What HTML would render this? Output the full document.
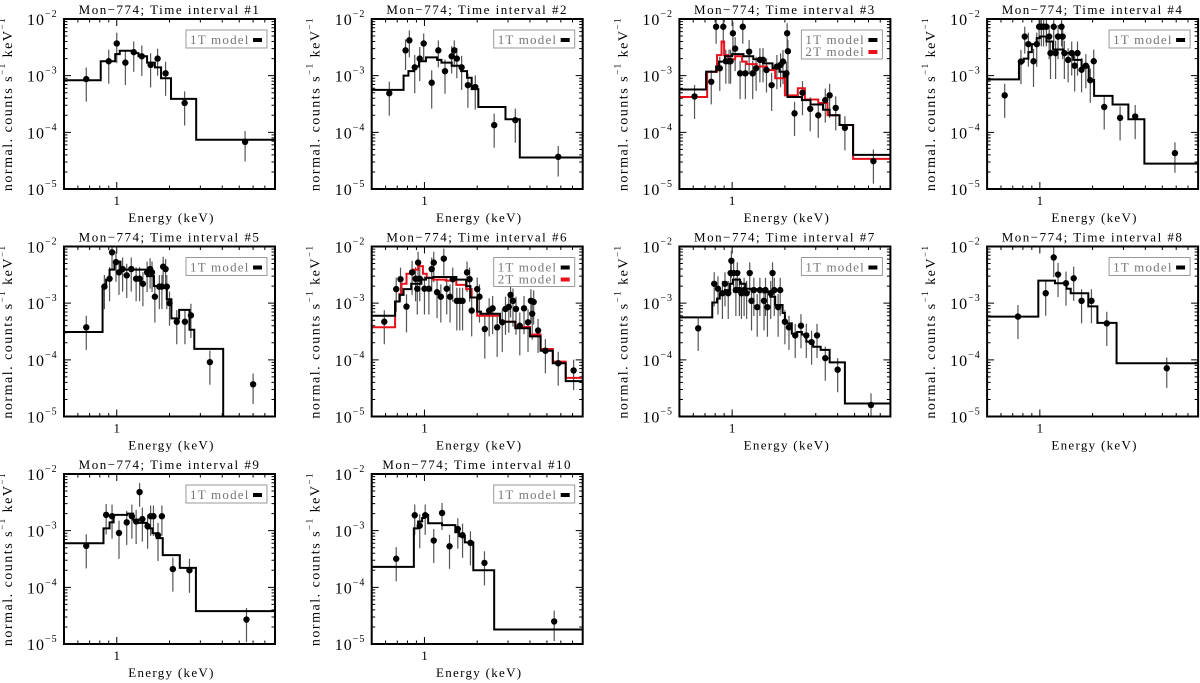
<!DOCTYPE html>
<html><head><meta charset="utf-8">
<style>
html,body{margin:0;padding:0;background:#fff;}
svg{display:block;font-family:"Liberation Serif","DejaVu Serif",serif;}
</style></head>
<body>
<svg id="chart" width="1200" height="683" viewBox="0 0 1200 683" xmlns="http://www.w3.org/2000/svg"></svg>
<script>
// ---- data (energy keV, normalized counts s^-1 keV^-1) ----
const p1E=[0.67,0.90,1.0,1.12,1.25,1.39,1.56,1.71,1.90,2.44,5.4];
const p1Y=[8.7e-4,1.8e-3,3.7e-3,1.7e-3,2.6e-3,2.2e-3,1.55e-3,2.0e-3,1.1e-3,3.3e-4,6.8e-5];
const p1F=[0.6,0.6,0.55,0.6,0.55,0.55,0.6,0.5,0.6,0.6,0.55];
const p1Edges=[0.5,0.81,0.98,1.04,1.24,1.33,1.49,1.65,1.79,2.04,2.84,8];
const p1M=[8.3e-4,1.8e-3,2.4e-3,2.75e-3,2.5e-3,2.2e-3,1.7e-3,1.4e-3,9e-4,3.9e-4,7.4e-5];

const p2E=[0.63,0.78,0.82,0.88,0.94,0.99,1.10,1.20,1.31,1.43,1.48,1.53,1.63,1.77,1.95,2.5,3.3,5.8];
const p2Y=[4.9e-4,2.8e-3,4.2e-3,1.4e-3,2.0e-3,3.7e-3,7.5e-4,2.8e-3,1.2e-3,2.2e-3,2.8e-3,2.0e-3,1.4e-3,6.8e-4,6.3e-4,1.34e-4,1.64e-4,3.7e-5];
const p2F=[0.6,0.55,0.5,0.65,0.6,0.5,0.65,0.5,0.6,0.5,0.5,0.55,0.6,0.6,0.6,0.6,0.6,0.55];
const p2Edges=[0.5,0.76,0.81,0.87,0.93,1.02,1.18,1.25,1.43,1.62,1.75,1.86,2.03,2.9,3.5,8];
const p2M=[5.6e-4,1.0e-3,1.2e-3,1.45e-3,1.8e-3,2.1e-3,1.9e-3,1.7e-3,1.5e-3,1.2e-3,9.2e-4,5.8e-4,2.8e-4,1.7e-4,3.6e-5];

const p3E=[0.61,0.76,0.81,0.85,0.89,0.92,0.96,0.98,1.01,1.04,1.11,1.15,1.19,1.25,1.31,1.37,1.44,1.50,1.57,1.68,1.80,1.89,1.95,2.04,2.06,2.08,2.27,2.52,2.79,3.1,3.4,3.6,3.9,4.4,6.4];
const p3Y=[4.3e-4,7.8e-4,7.3e-3,1.35e-3,7.3e-3,1.8e-3,1.8e-3,1.8e-3,5.6e-3,3.0e-3,1.1e-3,7.3e-3,1.1e-3,2.65e-3,1.1e-3,1.35e-3,1.9e-3,1.9e-3,1.26e-3,6.8e-4,1.45e-3,1.55e-3,1.77e-3,1.1e-3,5.6e-3,2.7e-3,2.16e-4,5.0e-4,2.6e-4,2.0e-4,3.7e-4,4.5e-4,2.7e-4,1.2e-4,3.1e-5];
const p3F=[0.6,0.6,0.5,0.6,0.5,0.6,0.6,0.6,0.6,0.6,0.65,0.5,0.65,0.6,0.65,0.6,0.6,0.6,0.6,0.65,0.6,0.6,0.6,0.6,0.5,0.6,0.6,0.6,0.6,0.6,0.6,0.6,0.6,0.6,0.6];
const p3Edges=[0.5,0.71,0.81,0.84,0.91,1.0,1.16,1.32,1.50,1.70,1.86,1.97,2.07,2.5,2.8,3.3,3.6,4.1,4.9,8];
const p3M=[5.7e-4,1.17e-3,1.45e-3,1.77e-3,2.2e-3,2.4e-3,2.2e-3,1.95e-3,1.65e-3,1.35e-3,1.17e-3,9.6e-4,4.2e-4,3.7e-4,3.1e-4,2.5e-4,2.0e-4,1.35e-4,4e-5];
const p3REdges=[0.5,0.72,0.82,0.87,0.90,0.95,1.04,1.14,1.21,1.38,1.58,1.76,2.0,2.37,2.6,3.1,3.5,4.1,4.9,8];
const p3R=[4.2e-4,1.17e-3,2.3e-3,4.0e-3,2.3e-3,1.95e-3,2.2e-3,1.77e-3,1.6e-3,1.45e-3,1.25e-3,9e-4,4.5e-4,6e-4,3.8e-4,3.3e-4,2.0e-4,1.35e-4,3.4e-5];

const p4E=[0.63,0.78,0.82,0.86,0.92,0.96,0.99,1.02,1.05,1.09,1.13,1.15,1.20,1.23,1.27,1.33,1.35,1.38,1.45,1.52,1.58,1.64,1.73,1.83,1.94,2.03,2.33,2.87,3.5,5.9];
const p4Y=[4.5e-4,1.77e-3,4.9e-3,3.6e-3,1.8e-3,3.6e-3,7.3e-3,7.3e-3,7.3e-3,7.3e-3,4.9e-3,2.5e-3,7.3e-3,2.5e-3,4.9e-3,7.3e-3,4.9e-3,2.5e-3,1.9e-3,2.5e-3,1.5e-3,2.5e-3,1.27e-3,1.5e-3,8.3e-4,1.8e-3,2.8e-4,1.8e-4,1.9e-4,4.3e-5];
const p4F=[0.6,0.6,0.5,0.6,0.65,0.6,0.55,0.55,0.55,0.55,0.6,0.65,0.55,0.65,0.6,0.55,0.6,0.65,0.6,0.6,0.65,0.6,0.6,0.6,0.6,0.6,0.6,0.6,0.6,0.55];
const p4Edges=[0.5,0.76,0.81,0.86,0.90,0.96,1.0,1.09,1.19,1.36,1.55,1.73,1.90,2.04,2.6,3.2,3.95,8];
const p4M=[8.6e-4,1.77e-3,2.0e-3,2.6e-3,3.6e-3,4.6e-3,4.9e-3,4.0e-3,2.9e-3,2.5e-3,1.9e-3,1.45e-3,8.4e-4,4.4e-4,3.1e-4,1.7e-4,2.8e-5];

const p5E=[0.67,0.85,0.91,0.94,0.99,1.03,1.08,1.14,1.21,1.29,1.35,1.41,1.49,1.55,1.59,1.65,1.75,1.81,1.84,1.90,1.93,2.0,2.2,2.45,2.65,3.4,6.0];
const p5Y=[3.75e-4,1.96e-3,2.7e-3,7.9e-3,5.3e-3,3.5e-3,4.0e-3,3.1e-3,4.0e-3,2.7e-3,2.7e-3,2.2e-3,3.5e-3,4.0e-3,3.5e-3,1.3e-3,1.96e-3,1.96e-3,4.4e-3,4.0e-3,1.96e-3,1.0e-3,4.7e-4,4.7e-4,6.1e-4,9.1e-5,3.7e-5];
const p5F=[0.6,0.6,0.6,0.5,0.55,0.6,0.6,0.6,0.6,0.6,0.6,0.6,0.55,0.55,0.55,0.65,0.6,0.6,0.5,0.5,0.6,0.6,0.6,0.6,0.6,0.6,0.55];
const p5Edges=[0.5,0.83,0.87,0.91,0.97,1.05,1.13,1.49,1.63,1.78,1.93,2.05,2.27,2.6,2.77,4.05,8];
const p5M=[3.1e-4,1.9e-3,2.6e-3,3.9e-3,5.4e-3,3.9e-3,3.9e-3,3.0e-3,2.0e-3,1.85e-3,1.17e-3,5.4e-4,7.6e-4,3.4e-4,1.56e-4,1e-7];

const p6E=[0.59,0.69,0.73,0.79,0.85,0.89,0.91,0.92,0.94,1.0,1.06,1.10,1.13,1.18,1.24,1.29,1.34,1.40,1.45,1.53,1.59,1.65,1.75,1.81,1.86,2.0,2.06,2.21,2.34,2.45,2.6,2.78,2.9,3.03,3.1,3.2,3.33,3.5,3.7,3.9,4.05,4.12,4.2,4.45,4.9,5.8,7.1];
const p6Y=[4.7e-4,1.77e-3,2.65e-3,8.7e-4,3.5e-3,2.7e-3,1.8e-3,5.2e-3,2.7e-3,1.8e-3,1.8e-3,4.0e-3,5.2e-3,1.56e-3,1.3e-3,6.1e-3,1.8e-3,1.3e-3,2.65e-3,1.1e-3,1.1e-3,1.1e-3,3.5e-3,2.65e-3,7.4e-4,1.77e-3,1.3e-3,3.5e-4,7.4e-4,8.1e-4,3.75e-4,4.6e-4,7.9e-4,8.6e-4,1.4e-3,1.1e-3,7.9e-4,4.0e-4,8.1e-4,4.6e-4,1.1e-3,6.5e-4,1.05e-3,3.3e-4,1.45e-4,8.7e-5,6.5e-5];
const p6F=[0.6,0.6,0.6,0.65,0.6,0.6,0.65,0.55,0.6,0.65,0.65,0.6,0.55,0.65,0.65,0.5,0.65,0.65,0.6,0.7,0.7,0.7,0.55,0.6,0.65,0.6,0.65,0.7,0.65,0.65,0.7,0.7,0.65,0.65,0.6,0.65,0.65,0.7,0.65,0.7,0.6,0.65,0.6,0.6,0.6,0.6,0.55];
const p6Edges=[0.5,0.68,0.72,0.76,0.84,0.96,1.02,1.12,1.52,1.73,1.83,2.0,2.1,2.7,3.3,4.0,4.6,5.4,6.4,8];
const p6M=[6e-4,1.07e-3,1.4e-3,1.77e-3,2.2e-3,2.6e-3,2.8e-3,2.9e-3,2.6e-3,2.0e-3,1.26e-3,7.1e-4,6.5e-4,4.7e-4,3.6e-4,2.6e-4,1.45e-4,8.7e-5,4.2e-5];
const p6REdges=[0.5,0.68,0.72,0.74,0.79,0.86,0.92,0.98,1.03,1.12,1.32,1.52,1.73,1.86,2.0,2.1,2.7,3.3,4.0,4.6,5.4,6.4,8];
const p6R=[3.75e-4,1.07e-3,1.45e-3,2.2e-3,3.3e-3,3.9e-3,4.5e-3,3.3e-3,2.8e-3,2.6e-3,2.5e-3,2.1e-3,1.77e-3,1.26e-3,6.0e-4,6.0e-4,4.7e-4,3.8e-4,2.8e-4,1.55e-4,9.3e-5,4.8e-5];

const p7E=[0.64,0.79,0.83,0.88,0.91,0.95,0.98,0.99,1.02,1.05,1.07,1.10,1.13,1.17,1.21,1.26,1.29,1.33,1.39,1.44,1.52,1.55,1.59,1.66,1.70,1.74,1.83,1.88,2.0,2.11,2.29,2.47,2.65,2.84,3.05,3.4,4.0,6.2];
const p7Y=[3.6e-4,2.2e-3,1.8e-3,1.5e-3,2.2e-3,1.5e-3,3.4e-3,5.6e-3,3.4e-3,1.7e-3,3.4e-3,1.7e-3,1.5e-3,1.7e-3,1.5e-3,3.4e-3,1.1e-3,1.7e-3,8.5e-4,1.7e-3,1.1e-3,1.7e-3,8.5e-4,1.5e-3,3.4e-3,1.7e-3,8.5e-4,1.7e-3,4.7e-4,3.75e-4,2.7e-4,4.0e-4,2.7e-4,2.05e-4,2.7e-4,1.07e-4,6.7e-5,1.6e-5];
const p7F=[0.6,0.6,0.65,0.65,0.6,0.65,0.55,0.5,0.55,0.65,0.55,0.65,0.65,0.65,0.65,0.55,0.7,0.65,0.7,0.65,0.7,0.65,0.7,0.65,0.55,0.65,0.7,0.65,0.6,0.6,0.6,0.6,0.6,0.6,0.6,0.6,0.6,0.6];
const p7Edges=[0.5,0.77,0.82,0.85,0.91,0.97,1.01,1.11,1.19,1.27,1.51,1.65,1.76,1.94,2.0,2.19,2.35,2.5,2.65,2.9,3.2,3.6,4.4,8];
const p7M=[5.6e-4,1.03e-3,1.2e-3,1.5e-3,1.7e-3,2.2e-3,2.6e-3,2.2e-3,1.8e-3,1.77e-3,1.55e-3,1.3e-3,9.3e-4,6.7e-4,4.4e-4,2.9e-4,3.1e-4,2.8e-4,2.1e-4,1.7e-4,1.5e-4,9e-5,1.7e-5];

const p8E=[0.75,1.08,1.20,1.27,1.41,1.56,1.73,1.97,2.41,5.3];
const p8Y=[5.8e-4,1.5e-3,6.4e-3,3.2e-3,2.25e-3,2.75e-3,1.1e-3,1.1e-3,4.4e-4,7.1e-5];
const p8F=[0.6,0.6,0.55,0.6,0.6,0.6,0.6,0.6,0.6,0.55];
const p8Edges=[0.5,0.98,1.22,1.42,1.5,1.62,1.89,2.13,2.74,8];
const p8M=[5.8e-4,2.5e-3,2.25e-3,1.8e-3,1.5e-3,1.5e-3,8.8e-4,4.5e-4,8.7e-5];

const p9E=[0.67,0.87,0.94,1.03,1.14,1.22,1.29,1.35,1.40,1.50,1.56,1.62,1.72,1.81,2.09,2.6,5.5];
const p9Y=[5.4e-4,1.9e-3,1.8e-3,9.1e-4,1.4e-3,1.8e-3,1.45e-3,4.8e-3,1.6e-3,1.2e-3,1.8e-3,1.8e-3,8.3e-4,1.8e-3,2.1e-4,2.0e-4,2.7e-5];
const p9F=[0.6,0.55,0.6,0.65,0.6,0.6,0.6,0.45,0.6,0.6,0.55,0.55,0.65,0.55,0.6,0.6,0.6];
const p9Edges=[0.5,0.84,0.91,0.96,1.15,1.24,1.33,1.49,1.6,1.69,1.83,2.29,2.83,8];
const p9M=[6e-4,1.1e-3,1.4e-3,1.9e-3,2.0e-3,1.57e-3,1.37e-3,1.1e-3,9e-4,7.4e-4,3.7e-4,2.2e-4,3.8e-5];

const p10E=[0.69,0.88,0.94,1.01,1.13,1.26,1.39,1.55,1.65,1.83,2.2,5.5];
const p10Y=[3.2e-4,1.87e-3,1.22e-3,1.87e-3,6.7e-4,2.05e-3,5.3e-4,1.07e-3,8.3e-4,6.1e-4,2.7e-4,2.5e-5];
const p10F=[0.6,0.55,0.6,0.55,0.6,0.5,0.6,0.55,0.6,0.6,0.6,0.55];
const p10Edges=[0.5,0.87,0.92,0.97,1.0,1.05,1.26,1.50,1.58,1.70,1.90,2.5,8];
const p10M=[2.3e-4,1.1e-3,1.45e-3,1.67e-3,1.9e-3,1.35e-3,1.25e-3,9.4e-4,8e-4,6.2e-4,2.0e-4,1.8e-5];

const yTickExps=["−2","−3","−4","−5"];
const xMajorLabels=["1"];

const panels=[
 {E:p1E,Y:p1Y,F:p1F,ed:p1Edges,m:p1M},
 {E:p2E,Y:p2Y,F:p2F,ed:p2Edges,m:p2M},
 {E:p3E,Y:p3Y,F:p3F,ed:p3Edges,m:p3M,red:p3REdges,rm:p3R},
 {E:p4E,Y:p4Y,F:p4F,ed:p4Edges,m:p4M},
 {E:p5E,Y:p5Y,F:p5F,ed:p5Edges,m:p5M},
 {E:p6E,Y:p6Y,F:p6F,ed:p6Edges,m:p6M,red:p6REdges,rm:p6R},
 {E:p7E,Y:p7Y,F:p7F,ed:p7Edges,m:p7M},
 {E:p8E,Y:p8Y,F:p8F,ed:p8Edges,m:p8M},
 {E:p9E,Y:p9Y,F:p9F,ed:p9Edges,m:p9M},
 {E:p10E,Y:p10Y,F:p10F,ed:p10Edges,m:p10M}
];

const NS="http://www.w3.org/2000/svg";
const svg=document.getElementById('chart');
const W=211,H=170,XMIN=0.5,XMAX=8,YTOP=-2,YBOT=-5;
function mk(tag,attrs,parent){const e=document.createElementNS(NS,tag);for(const k in attrs)e.setAttribute(k,attrs[k]);(parent||svg).appendChild(e);return e;}

panels.forEach((p,i)=>{
  const col=i%4,row=Math.floor(i/4);
  const L=64+col*307.7,T=19+row*227.5;
  const xs=e=>L+Math.log10(e/XMIN)/Math.log10(XMAX/XMIN)*W;
  const ys=v=>T+(YTOP-Math.log10(Math.max(v,1e-9)))/(YTOP-YBOT)*H;
  const g=mk('g',{});
  
  
  const cid='clip'+i;
  const cp=mk('clipPath',{id:cid},g);mk('rect',{x:L,y:T,width:W,height:H},cp);
  const t=mk('text',{x:L+W/2,y:T-5,'text-anchor':'middle','font-size':'13','letter-spacing':'1.5'},g);
  t.textContent='Mon−774; Time interval #'+(i+1);
  
  
  const yl=mk('text',{x:0,y:0,'text-anchor':'middle','font-size':'14','letter-spacing':'1.5',transform:`translate(${L-52},${T+H/2}) rotate(-90)`},g);
  yl.innerHTML='normal. counts s<tspan font-size="9" dy="-7">−1</tspan><tspan dy="7"> keV</tspan><tspan font-size="9" dy="-7">−1</tspan>';
  
  
  const xl=mk('text',{x:L+W/2+2,y:T+H+33,'text-anchor':'middle','font-size':'13','letter-spacing':'1.3'},g);
  xl.textContent='Energy (keV)';
  
  
  yTickExps.forEach((ex,k)=>{
    const yy=ys(Math.pow(10,YTOP-k));
    const tl=mk('text',{x:L-37,y:yy+6,'text-anchor':'start','font-size':'16','letter-spacing':'1'},g);
    tl.innerHTML='10<tspan font-size="10" dy="-8">'+ex+'</tspan>';
    
    
  });
  let tk='';
  for(let d=YBOT;d<YTOP;d++){for(let m=1;m<10;m++){const v=m*Math.pow(10,d);const yy=ys(v);const len=m===1?7:3.5;tk+=`M${L},${yy}h${len}M${L+W},${yy}h${-len}`;}}
  tk+=`M${L},${ys(1e-2)}h7M${L+W},${ys(1e-2)}h-7`;
  [0.5,0.6,0.7,0.8,0.9,1,2,3,4,5,6,7,8].forEach(e=>{const xx=xs(e);const len=e===1?7:3.5;tk+=`M${xx},${T+H}v${-len}M${xx},${T}v${len}`;});
  const tp=mk('path',{d:tk,stroke:'#000','stroke-width':'1',fill:'none'},g);
  
  
  xMajorLabels.forEach(s=>{const xt=mk('text',{x:xs(parseFloat(s)),y:T+H+16,'text-anchor':'middle','font-size':'13'},g);xt.textContent=s;
    
    });
  const pg=mk('g',{'clip-path':`url(#${cid})`},g);
  p.E.forEach((e,k)=>{
    const y=p.Y[k],s=p.F[k]*y;
    const ln=mk('line',{x1:xs(e),x2:xs(e),y1:ys(y+s),y2:ys(Math.max(y-s,1e-9)),stroke:'#555','stroke-width':'1.2'},pg);
    
    
  });
  function step(ed,vals,color,name){
    let d=`M${xs(ed[0])},${ys(vals[0])}`;
    for(let k=0;k<vals.length;k++){d+=`H${xs(ed[k+1])}`;if(k+1<vals.length)d+=`V${ys(vals[k+1])}`;}
    const pa=mk('path',{d:d,stroke:color,'stroke-width':'2',fill:'none'},pg);
    
    
  }
  if(p.red) step(p.red,p.rm,'#e8101a','model-2t-line');
  step(p.ed,p.m,'#000','model-1t-line');
  p.E.forEach((e,k)=>{
    const c=mk('circle',{cx:xs(e),cy:ys(p.Y[k]),r:'3.2',fill:'#000'},pg);
    
    
  });
  const fr=mk('rect',{x:L,y:T,width:W,height:H,fill:'none',stroke:'#000','stroke-width':'2'},g);
  
  
  const lg=mk('g',{},g);
  
  
  const two=!!p.red;
  mk('rect',{x:L+122,y:T+11,width:81,height:two?29:18,fill:'#fff',stroke:'#999','stroke-width':'1'},lg);
  const items=two?[['1T model','#000'],['2T model','#e8101a']]:[['1T model','#000']];
  items.forEach((it,k)=>{
    const yy=T+25+k*12;
    const lt=mk('text',{x:L+126,y:yy,'font-size':'13','letter-spacing':'1.2',fill:'#777'},lg);lt.textContent=it[0];
    
    
    mk('rect',{x:L+189,y:yy-6,width:9,height:4,fill:it[1]},lg);
  });
});
</script>
</body></html>
